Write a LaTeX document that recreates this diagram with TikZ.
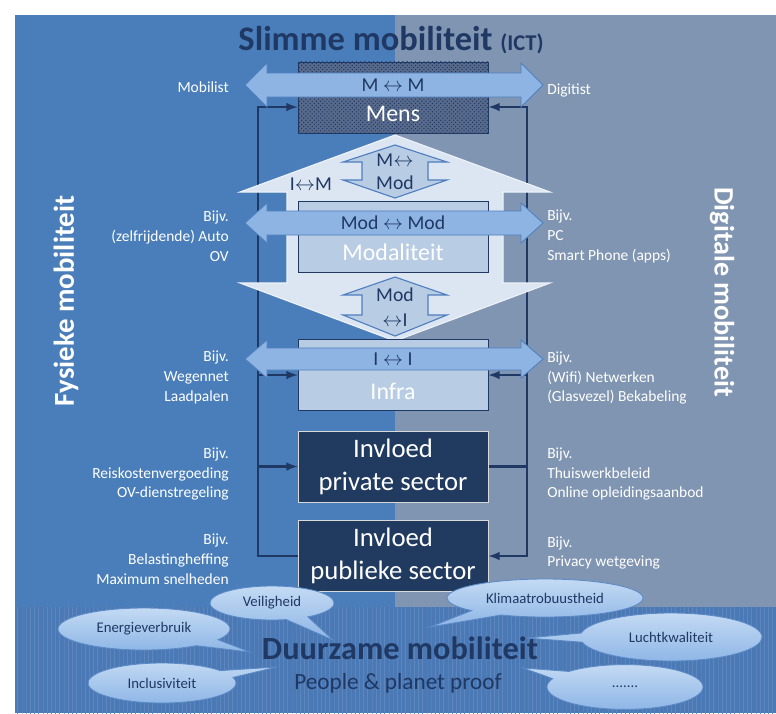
\documentclass[tikz,border=0pt]{standalone}
\usepackage{fontspec}
\setmainfont{Carlito}
\usetikzlibrary{shapes.callouts,patterns,backgrounds}

\definecolor{fysiek}{HTML}{4A7EBB}
\definecolor{digitaal}{HTML}{8095B2}
\definecolor{duurzaam}{HTML}{4A79B5}
\definecolor{navy}{HTML}{1F3864}
\definecolor{lichtblauw}{HTML}{8DB4E2}
\definecolor{pijlrand}{HTML}{4F7FBF}
\definecolor{boxblauw}{HTML}{B8CCE4}
\definecolor{donker}{HTML}{203A60}
\definecolor{bleek}{HTML}{DCE6F2}
\definecolor{wolklicht}{HTML}{C3DAF3}
\definecolor{wolk}{HTML}{8DB5E6}
\definecolor{wolkrand}{HTML}{5B8AC6}

\begin{document}
\begin{tikzpicture}[x=0.025cm, y=-0.025cm, >=latex,
  laag/.style={draw=navy, line width=0.6pt, minimum width=4.75cm, minimum height=1.775cm, inner sep=0pt},
  mensbox/.style={laag, fill=navy!75!white, postaction={pattern=crosshatch dots, pattern color=navy}},
  lichtbox/.style={laag, fill=boxblauw},
  donkerbox/.style={laag, draw=white!85!black, fill=donker, text=white, align=center,
    font=\fontsize{19}{23.5}\selectfont},
  boxtxt/.style={text=white, font=\fontsize{17}{20}\selectfont},
  arrtxt/.style={text=navy, font=\fontsize{14}{16}\selectfont, inner sep=0pt},
  lab/.style={text=white, font=\fontsize{11}{14.2}\selectfont, inner sep=0pt},
  fb/.style={draw=navy, line width=1.7pt},
  wolkje/.style={ellipse callout, draw=wolkrand, line width=0.6pt, top color=wolklicht,
    bottom color=wolk, text=navy, font=\fontsize{10.5}{12}\selectfont, inner sep=0pt,
    callout pointer arc=22}]

\useasboundingbox (0,0) rectangle (776,713);

% titels
\node[text=navy, font=\bfseries\fontsize{24.5}{28}\selectfont] (titel) at (391,40)
  {Slimme mobiliteit {\fontsize{16}{18}\selectfont (ICT)}};
\node[rotate=90, text=white, font=\bfseries\fontsize{20.5}{24}\selectfont] (fysiek) at (66,301) {Fysieke mobiliteit};
\node[rotate=-90, text=white, font=\bfseries\fontsize{20}{24}\selectfont] (digitaal) at (722,292) {Digitale mobiliteit};

% grote pijl tussen de lagen
\draw[draw=white!75!boxblauw, fill=bleek, line width=0.8pt]
  (395,135) -- (550,192) -- (503,192) -- (503,283) -- (550,283) -- (395,341)
  -- (240,283) -- (287,283) -- (287,192) -- (240,192) -- cycle;

% lagen
\node[mensbox] (mens) at (393,97.5) {};
\node[lichtbox] (moda) at (393,236.5) {};
\node[lichtbox] (infra) at (393,375) {};
\node[donkerbox] (priv) at (393,466.5) {Invloed\\private sector};
\node[donkerbox] (publ) at (393,556) {Invloed\\publieke sector};

\node[boxtxt] (menstxt) at ([yshift=-0.4cm]mens.center) {Mens};
\node[boxtxt] (modatxt) at ([yshift=-0.4cm]moda.center) {Modaliteit};
\node[boxtxt] (infratxt) at ([yshift=-0.42cm]infra.center) {Infra};

% horizontale pijlen
\foreach \yc/\hs/\hh/\txt [count=\i] in {85/12/22/{M $\leftrightarrow$ M}, 223/12/20/{Mod $\leftrightarrow$ Mod}, 359/11/19/{I $\leftrightarrow$ I}}{
  \draw[draw=pijlrand, fill=lichtblauw, line width=0.6pt]
    (245,\yc) -- (267,\yc-\hh) -- (267,\yc-\hs) -- (521,\yc-\hs) -- (521,\yc-\hh) -- (543,\yc)
    -- (521,\yc+\hh) -- (521,\yc+\hs) -- (267,\yc+\hs) -- (267,\yc+\hh) -- cycle;
  \node[arrtxt] (ha\i) at (393,\yc) {\txt};
}

% kleine pijlen
\draw[draw=pijlrand, fill=boxblauw, line width=0.8pt]
  (395,145) -- (447,162) -- (428,162) -- (428,180) -- (447,180) -- (395,198)
  -- (343,180) -- (362,180) -- (362,162) -- (343,162) -- cycle;
\draw[draw=pijlrand, fill=boxblauw, line width=0.8pt]
  (395,277) -- (447,295) -- (428,295) -- (428,315) -- (447,315) -- (395,336)
  -- (343,315) -- (362,315) -- (362,295) -- (343,295) -- cycle;
\node[arrtxt] (mmod1) at (395,160) {M$\leftrightarrow$};
\node[arrtxt] (mmod2) at (395,183) {Mod};
\node[arrtxt] (modi1) at (395,295) {Mod};
\node[arrtxt] (modi2) at (395,320) {$\leftrightarrow$I};
\node[arrtxt] (im) at (311,184) {I$\leftrightarrow$M};

% voorbeelden links
\node[lab, anchor=east, align=right] (mobilist) at (229,87) {Mobilist};
\node[lab, anchor=east, align=right] (auto) at (229,236) {Bijv.\\(zelfrijdende) Auto\\OV};
\node[lab, anchor=east, align=right] (wegen) at (229,377) {Bijv.\\Wegennet\\Laadpalen};
\node[lab, anchor=east, align=right] (reis) at (229,474) {Bijv.\\Reiskostenvergoeding\\OV-dienstregeling};
\node[lab, anchor=east, align=right] (belasting) at (229,559) {Bijv.\\Belastingheffing\\Maximum snelheden};

% voorbeelden rechts
\node[lab, anchor=west, align=left] (digitist) at (547,90) {Digitist};
\node[lab, anchor=west, align=left] (pc) at (547,236) {Bijv.\\PC\\Smart Phone (apps)};
\node[lab, anchor=west, align=left] (netwerk) at (547,378) {Bijv.\\(Wifi) Netwerken\\(Glasvezel) Bekabeling};
\node[lab, anchor=west, align=left] (thuis) at (547,474) {Bijv.\\Thuiswerkbeleid\\Online opleidingsaanbod};
\node[lab, anchor=west, align=left] (privacy) at (547,553) {Bijv.\\Privacy wetgeving};

% duurzaam
\node[text=navy, font=\bfseries\fontsize{23}{26}\selectfont] (duurzaam) at (400,648) {Duurzame mobiliteit};
\node[text=navy, font=\fontsize{16.5}{19}\selectfont] (people) at (398,683) {People \& planet proof};

\node[wolkje, minimum width=3.1cm, minimum height=0.85cm, callout absolute pointer={(333,640)}] (veilig) at (272,603) {Veiligheid};
\node[wolkje, minimum width=4.3cm, minimum height=1.05cm, callout absolute pointer={(250,652)}] (energie) at (144,629) {Energieverbruik};
\node[wolkje, minimum width=3.7cm, minimum height=1.0cm, callout absolute pointer={(277,667)}] (inclusief) at (162,683) {Inclusiviteit};
\node[wolkje, minimum width=4.9cm, minimum height=0.95cm, callout absolute pointer={(430,627)}] (klimaat) at (545,598) {Klimaatrobuustheid};
\node[wolkje, minimum width=4.55cm, minimum height=1.2cm, callout absolute pointer={(527,638)}] (lucht) at (671,637) {Luchtkwaliteit};
\node[wolkje, minimum width=3.9cm, minimum height=1.12cm, callout absolute pointer={(523,668)}] (meer) at (625,687) {.......};

% achtergrond en terugkoppeling
\begin{scope}[on background layer]
  \fill[fysiek] (15,15) rectangle (395,607);
  \fill[digitaal] (395,15) rectangle (776,607);
  \fill[duurzaam, postaction={pattern=vertical lines, pattern color=duurzaam!90!white}] (15,607) rectangle (776,713);

  \coordinate (lboven) at (258,107);
  \coordinate (londer) at (258,556);
  \coordinate (rboven) at (527,107);
  \coordinate (ronder) at (527,556);

  \draw[fb,->] (publ.west) -- (londer) -- (lboven) -- (lboven -| mens.west);
  \draw[fb,->] (infra.west -| lboven) -- (infra.west);
  \draw[fb,->] (priv.west -| lboven) -- (priv.west);
  \draw[fb,->] (priv.east) -- (priv.east -| rboven) -- (rboven) -- (rboven -| mens.east);
  \draw[fb,->] (priv.east -| rboven) -- (ronder) -- (publ.east);
  \draw[fb,->] (infra.east -| rboven) -- (infra.east);
\end{scope}

\end{tikzpicture}
\end{document}
